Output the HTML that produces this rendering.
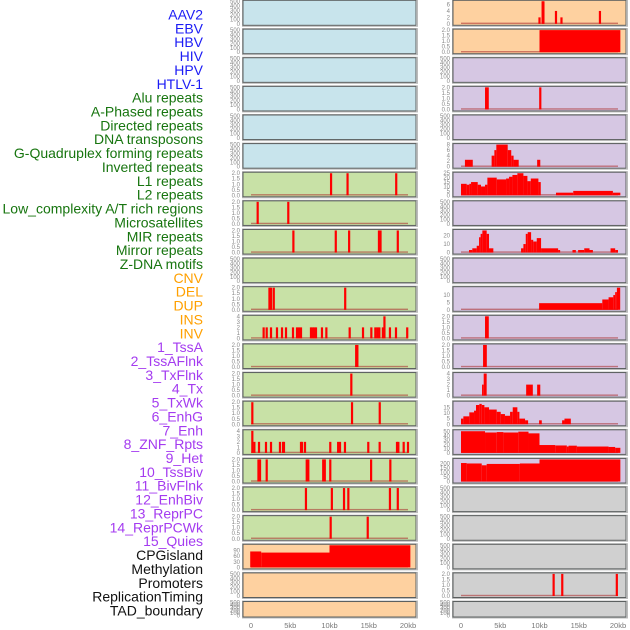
<!DOCTYPE html>
<html><head><meta charset="utf-8">
<style>
html,body{margin:0;padding:0;background:#fff;width:630px;height:630px;overflow:hidden}
svg{display:block}
.lab{font-family:"Liberation Sans",sans-serif;font-size:14px}
.tk{font-family:"Liberation Sans",sans-serif;font-size:6px;fill:#888}
.xt{font-family:"Liberation Sans",sans-serif;font-size:7.5px;fill:#777}
</style></head>
<body>
<svg id="chart" width="630" height="630" viewBox="0 0 630 630" xmlns="http://www.w3.org/2000/svg"></svg>
<script>
// ---- data ----
const labels = ["AAV2","EBV","HBV","HIV","HPV","HTLV-1","Alu repeats","A-Phased repeats","Directed repeats","DNA transposons","G-Quadruplex forming repeats","Inverted repeats","L1 repeats","L2 repeats","Low_complexity A/T rich regions","Microsatellites","MIR repeats","Mirror repeats","Z-DNA motifs","CNV","DEL","DUP","INS","INV","1_TssA","2_TssAFlnk","3_TxFlnk","4_Tx","5_TxWk","6_EnhG","7_Enh","8_ZNF_Rpts","9_Het","10_TssBiv","11_BivFlnk","12_EnhBiv","13_ReprPC","14_ReprPCWk","15_Quies","CPGisland","Methylation","Promoters","ReplicationTiming","TAD_boundary"];
const labelColors = {virus:"#1c1cf5",repeat:"#17750f",sv:"#ffa000",chrom:"#a43bf0",other:"#111"};
const xTickValues = [0,5,10,15,20];
const xTickLabels = ["0","5kb","10kb","15kb","20kb"];
const emptyTicks = [0,100,200,300,400,500];
const ticks2 = [0,0.5,1,1.5,2];
const ticks2Labels = ["0.0","0.5","1.0","1.5","2.0"];

// left column spikes [centerKb, value]
const L7 = [[10.2,2],[12.3,2],[18.5,2]];
const L8 = [[0.85,2],[4.75,2]];
const L9 = [[5.4,2],[10.8,2],[12.5,2],[16.3,2],[16.5,2],[18.7,2]];
const L11 = [[2.35,2],[2.55,2],[2.9,2],[12.0,2]];
const L12 = [[1.61,2],[2.0,2],[2.55,2],[3.31,2],[3.95,2],[4.46,2],[5.35,2],[5.86,2],[6.11,2],[6.37,2],[7.64,2],[7.86,2],[8.07,2],[8.28,2],[9.04,2],[9.6,2],[12.57,2],[14.27,2],[15.33,2],[15.84,2],[16.1,2],[16.35,2],[16.8,2],[17.0,4],[17.7,2],[18.47,2],[19.9,2]];
const L13 = [[13.4,2],[13.55,2]];
const L14 = [[12.78,2]];
const L15 = [[0.17,2],[12.87,2],[16.4,2]];
const L16 = [[0.17,4],[0.43,2],[1.02,2],[1.91,2],[2.55,2],[3.69,2],[4.08,2],[4.2,2],[6.37,2],[6.5,2],[6.88,2],[10.1,2],[11.1,2],[11.34,2],[11.97,2],[14.94,2],[16.39,2],[18.6,2],[18.77,2],[19.45,2],[20.0,2]];
const L17 = [[0.95,2],[1.15,2],[2.0,2],[7.1,2],[7.3,2],[9.2,2],[9.4,2],[10.1,2],[15.3,2],[17.75,2]];
const L18 = [[7.0,2],[10.3,2],[11.85,2],[12.4,2],[17.7,2],[18.7,2]];
const L19 = [[10.15,2],[14.87,2]];
// left segments [startKb,endKb,value]
const L20 = [[-0.1,1.3,85],[1.3,10.0,79],[10.0,20.3,118]];

// right column
const R1 = [[10.0,2],[10.4,7],[10.5,7],[12.1,4],[12.8,2],[17.7,4]];
const R2seg = [[10.0,20.3,2]];
const R4 = [[3.2,2],[3.4,2],[10.1,2]];
const R6seg = [[0.5,1.5,2.5],[3.9,4.25,4],[4.25,4.5,6],[4.5,5.95,8],[5.95,6.4,6],[6.4,6.7,4],[6.7,7.35,2.5],[9.7,10.1,2.5]];
const R7seg = [[0,0.72,13],[0.72,1.06,12],[1.06,1.28,13],[1.28,2.13,15],[2.13,2.55,12],[2.55,3.06,10],[3.06,3.36,12],[3.36,4.55,20],[4.55,5.74,18],[5.74,6.12,19],[6.12,6.55,21],[6.55,7.18,23],[7.18,7.95,25],[7.95,8.46,22],[8.46,8.89,16],[8.89,9.86,19],[9.86,10.16,15],[12.1,14.3,3],[14.3,19.35,5],[19.35,20.3,3]];
const R9seg = [[1.02,1.44,3],[1.44,2.0,5],[2.0,2.3,8],[2.3,2.5,18],[2.5,2.72,22],[2.72,3.27,26],[3.27,3.57,22],[3.57,4.12,5],[7.65,7.95,5],[7.95,8.25,10],[8.25,8.5,22],[8.5,8.93,24],[8.93,9.2,15],[9.2,9.65,13],[9.65,10.2,17],[10.2,12.37,5],[12.37,12.63,3],[14.2,14.63,3],[14.92,15.7,3],[15.7,16.37,5],[16.37,16.8,3],[19.05,19.64,5],[19.64,20.0,3]];
const R11seg = [[9.95,18.0,4.5],[18.0,18.8,7],[18.8,19.4,8.5],[19.4,19.64,10],[19.64,19.86,12],[19.86,20.28,15]];
const R12 = [[3.2,2],[3.4,2]];
const R13 = [[2.95,2],[3.15,2]];
const R14seg = [[2.68,2.89,2],[2.89,3.27,4],[8.3,9.15,2],[9.7,10.1,2]];
const R15seg = [[0,0.3,5],[0.3,1.06,7],[1.06,1.66,10.5],[1.66,1.91,12],[1.91,2.34,17],[2.34,2.64,18],[2.64,2.98,17],[2.98,3.57,15],[3.57,4.55,13],[4.55,5.06,11],[5.06,5.6,9],[5.6,6.25,7.5],[6.25,6.59,11],[6.59,7.18,15],[7.18,7.44,11],[7.44,8.16,5],[8.16,8.55,3.5],[9.95,10.29,3.5],[12.88,13.18,3.5],[13.18,13.99,5]];
const R16seg = [[0,3.06,51],[3.06,4.55,48],[4.55,5.4,49],[5.4,7.3,48],[7.3,8.6,50],[8.6,10.0,46],[10.0,12.0,18.5],[12.0,13.48,17.5],[13.48,13.7,15],[13.7,14.76,17],[14.76,18.8,15],[18.8,19.64,14],[19.64,20.3,12]];
const R17seg = [[0,0.72,205],[0.72,2.64,200],[2.64,3.27,180],[3.27,7.5,195],[7.5,10.0,200],[10.0,20.3,245]];
const R21 = [[11.8,2],[12.9,2],[19.85,2]];

// ---- panel configuration ----
const BLUE="#c8e4ec", GREEN="#c8e1a6", ORANGE="#fed1a0", PURPLE="#d6c7e3", GRAY="#d0d0d0";
const left = [
 {bg:BLUE},{bg:BLUE},{bg:BLUE},{bg:BLUE},{bg:BLUE},{bg:BLUE},
 {bg:GREEN,ymax:2,spikes:L7},{bg:GREEN,ymax:2,spikes:L8},{bg:GREEN,ymax:2,spikes:L9},{bg:GREEN},
 {bg:GREEN,ymax:2,spikes:L11},{bg:GREEN,ymax:4,ticks:[0,1,2,3,4],spikes:L12},{bg:GREEN,ymax:2,spikes:L13},
 {bg:GREEN,ymax:2,spikes:L14},{bg:GREEN,ymax:2,spikes:L15},{bg:GREEN,ymax:4,ticks:[0,1,2,3,4],spikes:L16},
 {bg:GREEN,ymax:2,spikes:L17},{bg:GREEN,ymax:2,spikes:L18},{bg:GREEN,ymax:2,spikes:L19},
 {bg:ORANGE,ymax:118,ticks:[0,30,60,90],segs:L20},{bg:ORANGE},{bg:ORANGE}
];
const right = [
 {bg:ORANGE,ymax:7,ticks:[0,2,4,6],spikes:R1},{bg:ORANGE,ymax:2,segs:R2seg},{bg:PURPLE},
 {bg:PURPLE,ymax:2,spikes:R4},{bg:PURPLE},{bg:PURPLE,ymax:8,ticks:[0,2,4,6,8],segs:R6seg},
 {bg:PURPLE,ymax:25,ticks:[0,5,10,15,20,25],segs:R7seg},{bg:PURPLE},
 {bg:PURPLE,ymax:26,ticks:[0,10,20],segs:R9seg},{bg:PURPLE},
 {bg:PURPLE,ymax:15,ticks:[0,5,10],segs:R11seg},{bg:PURPLE,ymax:2,spikes:R12},
 {bg:PURPLE,ymax:2,spikes:R13},{bg:PURPLE,ymax:4,ticks:[0,1,2,3,4],segs:R14seg},
 {bg:PURPLE,ymax:19.5,ticks:[0,5,10,15],segs:R15seg},
 {bg:PURPLE,ymax:52,ticks:[0,10,20,30,40,50],segs:R16seg},
 {bg:PURPLE,ymax:245,ticks:[0,50,100,150,200],segs:R17seg},
 {bg:GRAY},{bg:GRAY},{bg:GRAY},{bg:GRAY,ymax:2,spikes:R21},{bg:GRAY}
];

// ---- drawing ----
const NS="http://www.w3.org/2000/svg";
const svg=document.getElementById('chart');
function mk(tag,attrs,parent){const e=document.createElementNS(NS,tag);for(const k in attrs)e.setAttribute(k,attrs[k]);(parent||svg).appendChild(e);return e;}

// labels
labels.forEach((t,i)=>{
  let c = i<6?labelColors.virus : i<19?labelColors.repeat : i<24?labelColors.sv : i<39?labelColors.chrom : labelColors.other;
  const el=mk('text',{x:203,y:19.5+i*13.86,'text-anchor':'end',fill:c,class:'lab'});
  el.textContent=t;
  
  
});

function rowTop(i){return i===0?0.3:0.5+28.62*i;}
function rowH(i){return i===0?25:(i===21?15.5:24.6);}

function drawCol(panels,colName,frameX,x0,pxPerKb,tickX){
  const xs = kb=>x0+kb*pxPerKb;
  panels.forEach((p,i)=>{
    const top=rowTop(i), h=rowH(i);
    const g=mk('g',{});
    
    
    mk('rect',{x:frameX-0.5,y:top-0.5,width:175,height:h+1.5,fill:'none',stroke:'#bbb','stroke-width':1},g);
    mk('rect',{x:frameX,y:top,width:173,height:h,fill:p.bg,stroke:'#5a5e5e','stroke-width':1},g);
    const bottom=top+h-1.5, ph=h-2.5;
    const ymax=p.ymax||500;
    const ys=v=>bottom-(v/ymax)*ph;
    // ticks
    let tv = p.ticks || (p.ymax===2?ticks2:emptyTicks);
    tv.forEach((v,k)=>{
      const tt=mk('text',{x:tickX,y:ys(v)+2,'text-anchor':'end',class:'tk'},g);
      tt.textContent = (p.ymax===2 && !p.ticks)?ticks2Labels[k]:String(v);
    });
    if(!p.ymax) return;
    // baseline
    mk('rect',{x:xs(0),y:bottom-1.2,width:xs(20)-xs(0),height:1.4,fill:'rgba(170,40,40,0.55)'},g);
    (p.segs||[]).forEach(s=>{
      const r=mk('rect',{x:xs(s[0]),y:ys(Math.min(s[2],ymax)),width:Math.max(0.8,xs(s[1])-xs(s[0])),height:bottom-ys(Math.min(s[2],ymax)),fill:'#ff0000'},g);
      
      
    });
    (p.spikes||[]).forEach(s=>{
      const r=mk('rect',{x:xs(s[0])-1.1,y:ys(Math.min(s[1],ymax)),width:2.2,height:bottom-ys(Math.min(s[1],ymax)),fill:'#ff0000'},g);
      
      
    });
  });
  // x axis ticks
  xTickValues.forEach((v,k)=>{
    const t=mk('text',{x:xs(v),y:628,'text-anchor':'middle',class:'xt'});
    t.textContent=xTickLabels[k];
    
    
  });
}
drawCol(left,'left',243,251,7.85,240);
drawCol(right,'right',453,461,7.85,450);
</script>
</body></html>
